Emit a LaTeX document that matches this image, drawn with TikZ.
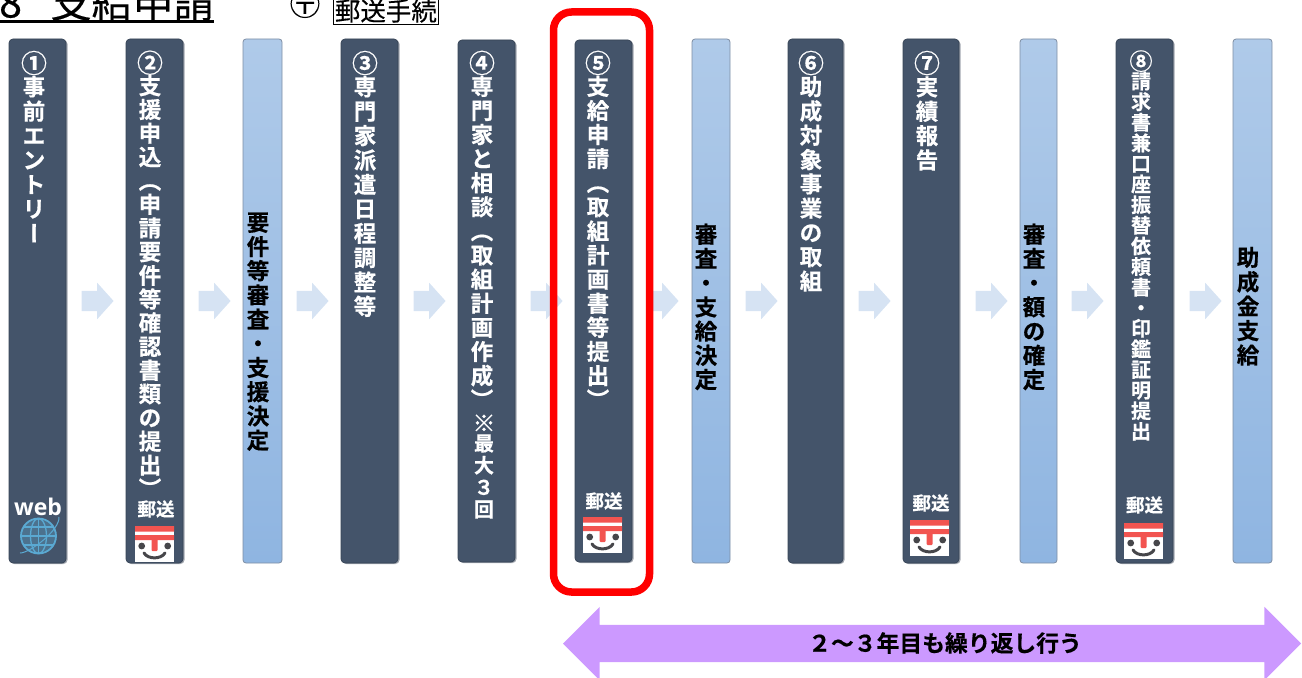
\documentclass[tikz,border=0pt]{standalone}
\usepackage{fontspec}
\usepackage{graphicx}
\usetikzlibrary{shapes.arrows}
\newfontfamily\cjk{Noto Sans CJK JP}[BoldFont={Noto Sans CJK JP Bold},BoldFeatures={FakeBold=0.5}]
\newfontfamily\cjkm{Noto Sans CJK JP}[FakeBold=0.3]
\newfontfamily\latn{Open Sans}
\definecolor{darkbox}{HTML}{44546A}
\definecolor{boxshade}{HTML}{A3A8B0}
\definecolor{lighttop}{HTML}{AFCAE9}
\definecolor{lightbot}{HTML}{8FB5E1}
\definecolor{lightedge}{HTML}{7E8EA3}
\definecolor{flow}{HTML}{D6E3F3}
\definecolor{lilac}{HTML}{CC99FF}
\definecolor{postred}{HTML}{F25450}
\definecolor{faceink}{HTML}{46464A}
\definecolor{globeblue}{HTML}{5AA9D2}
\newlength{\vstepl}
\makeatletter
% stack of characters, one under the other
\newcommand{\vstack}[3]{\begingroup\fontsize{#1bp}{#1bp}\selectfont\setlength{\vstepl}{#2bp}%
  \vbox{\offinterlineskip\@tfor\vitem:=#3\do{%
    \vbox to\vstepl{\vss\hbox{\vrule height.88em depth.12em width0pt\hbox to 1.25em{\hss\vitem\hss}}\vss}}}\endgroup}
\makeatother
\newcommand{\Rt}[1]{\rotatebox[origin=c]{-90}{\vrule height.88em depth.12em width0pt\hbox{#1}}}
\newcommand{\Cn}[1]{\raisebox{-.16em}{\scalebox{1.15}{#1}}}
\tikzset{
  darkcol/.style={fill=darkbox,draw=darkbox!80!black,line width=.7bp,rounded corners=4bp},
  lightcol/.style={top color=lighttop,bottom color=lightbot,draw=lightedge,line width=.8bp,rounded corners=3bp},
  shadecol/.style={fill=boxshade,rounded corners=4bp},
  stackw/.style={text=white,font=\cjk\bfseries,inner sep=0pt,anchor=north},
  stackb/.style={text=black,font=\cjk\bfseries,inner sep=0pt,anchor=north},
  flowarrow/.style={single arrow,fill=flow,draw=none,minimum height=32bp,inner xsep=0pt,inner ysep=10bp,
    single arrow head extend=8bp,single arrow tip angle=96},
  postlabel/.style={text=white,font=\cjk\bfseries\fontsize{18.5bp}{20bp}\selectfont,inner sep=0pt},
}
\newcommand{\column}[6]{% name, style, x0, y0, x1, y1
  \ifx#2d\fill[shadecol] (#3+1.5,#4+1) rectangle (#5+1.5,#6+1);
  \path[darkcol] (#3,#4) rectangle (#5,#6);\else
  \path[lightcol] (#3,#4) rectangle (#5,#6);\fi
  \coordinate (#1) at (#3,#4);}
\newcommand{\postface}[2]{\begin{scope}[shift={(#1,#2)}]
  \fill[white] (0,0) rectangle (39,35.5);
  \fill[postred] (0,0) rectangle (39,5.5) (0,9) rectangle (39,14);
  \fill[postred,rounded corners=1bp] (16.5,9) rectangle (22.5,25);
  \fill[faceink] (6.7,20) circle (3.4) (32.7,20) circle (3.4);
  \draw[faceink,line width=3bp,line cap=round] (9,27) .. controls (13,33.5) and (26,33.5) .. (30,27);
\end{scope}}
\begin{document}
\begin{tikzpicture}[x=1bp,y=-1bp]
\useasboundingbox (0,0) rectangle (1302,677);
\clip (0,0) rectangle (1302,677);
% heading
\node[anchor=base west,inner sep=0pt,font=\cjkm\fontsize{41bp}{41bp}\selectfont] (title) at (-1,17.5) {8\hspace{.7em}支給申請};
\draw[line width=3bp] (0,21.5) -- (213.5,21.5);
\node[anchor=base,inner sep=0pt,font=\cjkm\fontsize{31bp}{31bp}\selectfont] (mark) at (305,15.5) {〶};
\node[draw=black,line width=.8bp,anchor=north west,inner sep=0pt,minimum width=105bp,minimum height=27bp,
  font=\cjkm\fontsize{25.5bp}{26bp}\selectfont] (post) at (333,-3) {郵送手続};
% flow arrows
\foreach \n/\x in {a/93,b/210,c/308,d/425,e/542,f/658,g/757,h/870,i/987,j/1083,k/1201}
  \node[flowarrow] (arrow\n) at (\x,301) {};
% columns
\column{c1}{d}{9}{39}{66}{563}
\column{c2}{d}{126}{39}{183}{563}
\column{l1}{l}{243}{39}{282}{563}
\column{c3}{d}{341}{39}{398}{563}
\column{c4}{d}{458}{40}{515}{562}
\column{c5}{d}{575}{40}{632}{562}
\column{l2}{l}{692}{39}{730}{563}
\column{c6}{d}{788}{39}{843}{563}
\column{c7}{d}{903}{39}{959}{563}
\column{l3}{l}{1020}{39}{1057}{563}
\column{c8}{d}{1116}{39}{1173}{563}
\column{l4}{l}{1233}{39}{1272}{563}
% column texts
\node[stackw] (t1) at (34,50) {\vstack{22.5}{24.4}{{\Cn{①}}事前エントリ{\Rt{ー}}}};
\node[stackw] (t2) at (150,50) {\vstack{22.5}{23.7}{{\Cn{②}}支援申込{\Rt{（}}申請要件等確認書類の提出{\Rt{）}}}};
\node[stackb] (t3) at (258,210) {\vstack{22.5}{24.2}{要件等審査・支援決定}};
\node[stackw] (t4) at (365,50) {\vstack{22.5}{24.4}{{\Cn{③}}専門家派遣日程調整等}};
\node[stackw] (t5) at (482,50) {\vstack{22.5}{24.1}{{\Cn{④}}専門家と相談{\Rt{（}}取組計画作成{\Rt{）}}}};
\node[stackw] (t5b) at (484,410) {\vstack{20}{22}{{\Cn{※}}最大３回}};
\node[stackw] (t6) at (598,50) {\vstack{22.5}{24.1}{{\Cn{⑤}}支給申請{\Rt{（}}取組計画書等提出{\Rt{）}}}};
\node[stackb] (t7) at (706,222) {\vstack{22.5}{24.2}{審査・支給決定}};
\node[stackw] (t8) at (811,50) {\vstack{22.5}{24.3}{{\Cn{⑥}}助成対象事業の取組}};
\node[stackw] (t9) at (927,50) {\vstack{22.5}{24.4}{{\Cn{⑦}}実績報告}};
\node[stackb] (t10) at (1034,222) {\vstack{22.5}{24.2}{審査・額の確定}};
\node[stackw] (t11) at (1141,50) {\vstack{20}{20.6}{{\Cn{⑧}}請求書兼口座振替依頼書・印鑑証明提出}};
\node[stackb] (t12) at (1248,245) {\vstack{22.5}{24.4}{助成金支給}};
% web mark
\node[text=white,inner sep=0pt,font=\latn\bfseries\fontsize{23bp}{24bp}\selectfont] (web) at (38,507) {web};
\begin{scope}[globeblue,line width=1.3bp]
  \coordinate (gc) at (38.5,536);
  \fill[globeblue!35!darkbox] (gc) circle (17.5);
  \draw[line width=1.8bp] (gc) circle (17.5);
  \draw (gc) ellipse (8 and 17.5);
  \draw (21,536) -- (56,536);
  \draw (23,527) -- (54,527) (23,545) -- (54,545);
  \draw (38.5,518.5) -- (38.5,553.5);
  \draw[line width=1bp] (20,553) .. controls (30,553) and (60,530) .. (59,517);
\end{scope}
% post marks
\node[postlabel] (p2) at (156,509) {郵送};
\postface{135}{526}
\node[postlabel] (p5) at (604,501) {郵送};
\postface{583}{517}
\node[postlabel] (p7) at (931,503) {郵送};
\postface{910}{520}
\node[postlabel] (p8) at (1144.5,505) {郵送};
\postface{1124}{523}
% red frame
\draw[red,line width=7.5bp,rounded corners=18bp] (553.5,12) rectangle (649.5,592);
% span arrow
\node[double arrow,fill=lilac,minimum height=738bp,inner xsep=0pt,inner ysep=18.5bp,
  double arrow head extend=18bp,double arrow tip angle=90] (span) at (932,643.5) {};
\node[inner sep=0pt,font=\cjk\bfseries\fontsize{22.8bp}{23bp}\selectfont] (spantext) at (945,643) {２～３年目も繰り返し行う};
\end{tikzpicture}
\end{document}
